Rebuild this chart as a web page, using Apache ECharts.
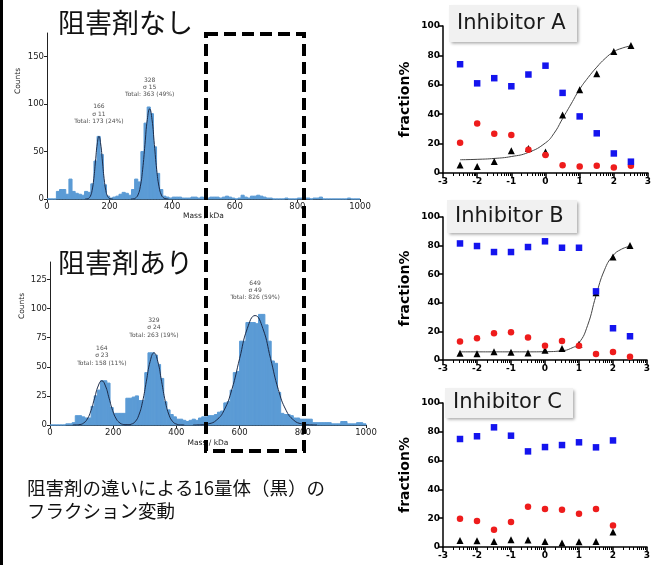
<!DOCTYPE html>
<html lang="ja">
<head>
<meta charset="utf-8"/>
<title>阻害剤 16量体 フラクション</title>
<script src="https://cdn.jsdelivr.net/npm/echarts@6/dist/echarts.min.js"></script>
</head>
<body style="margin:0;background:#fff">
<div id="chart" style="width:662px;height:565px"></div>
<script>
// mass photometry histograms, 10 kDa bins from 0 to 1000
const BIN = 10;
const countsNone = [
  0, 0, 0, 8, 10, 10, 5, 21, 8, 6,
  5, 4, 8, 7, 16, 40, 66, 47, 15, 3,
  1, 2, 3, 5, 7, 6, 4, 10, 21, 18,
  50, 80, 97, 90, 55, 27, 10, 3, 2, 1,
  2, 2, 2, 1, 1, 1, 2, 2, 1, 2,
  0, 1, 2, 2, 2, 1, 2, 3, 2, 1,
  0, 1, 4, 2, 1, 3, 3, 4, 3, 2,
  1, 1, 0, 0, 0, 0, 1, 0, 0, 0,
  1, 1, 1, 1, 0, 1, 1, 2, 0, 0,
  0, 0, 0, 0, 0, 0, 1, 0, 0, 0
];
const countsWith = [
  0, 0, 0, 0, 0, 1, 1, 2, 8, 8,
  7, 6, 6, 16, 25, 30, 38, 38, 36, 15,
  10, 10, 10, 10, 23, 23, 24, 25, 21, 21,
  45, 62, 62, 60, 52, 40, 20, 13, 9, 7,
  5, 5, 4, 3, 4, 5, 4, 6, 7, 7,
  8, 8, 9, 11, 12, 19, 20, 30, 45, 46,
  72, 72, 88, 88, 88, 87, 95, 95, 86, 72,
  55, 53, 28, 10, 9, 9, 8, 6, 6, 5,
  5, 5, 5, 2, 2, 2, 2, 2, 2, 1,
  1, 1, 3, 3, 1, 1, 1, 2, 2, 1
];
// fitted peaks
const fitNone1 = [[122,0],[127.5,0.1],[133,0.7],[138.5,2.9],[144,8.9],[149.5,21.4],[155,40],[160.5,58],[166,66],[171.5,58],[177,40],[182.5,21.4],[188,8.9],[193.5,2.9],[199,0.7],[204.5,0.1],[210,0]];
const fitNone2 = [[268,0],[275.5,0.2],[283,1.1],[290.5,4.2],[298,12.9],[305.5,30.8],[313,57.6],[320.5,83.8],[328,95],[335.5,83.8],[343,57.6],[350.5,30.8],[358,12.9],[365.5,4.2],[373,1.1],[380.5,0.2],[388,0]];
const fitWith1 = [[72,0],[83.5,0.1],[95,0.4],[106.5,1.7],[118,5.1],[129.5,12.3],[141,23],[152.5,33.5],[164,38],[175.5,33.5],[187,23],[198.5,12.3],[210,5.1],[221.5,1.7],[233,0.4],[244.5,0.1],[256,0]];
const fitWith2 = [[233,0],[245,0.1],[257,0.7],[269,2.7],[281,8.4],[293,20.1],[305,37.6],[317,54.7],[329,62],[341,54.7],[353,37.6],[365,20.1],[377,8.4],[389,2.7],[401,0.7],[413,0.1],[425,0]];
const fitWith3 = [[453,0],[477.5,0.2],[502,1],[526.5,4.1],[551,12.7],[575.5,30.5],[600,57],[624.5,83],[649,94],[673.5,83],[698,57],[722.5,30.5],[747,12.7],[771.5,4.1],[796,1],[820.5,0.2],[845,0]];
const peakNone = [[166, 78, '166\nσ 11\nTotal: 173 (24%)'], [328, 106, '328\nσ 15\nTotal: 363 (49%)']];
const peakWith = [[164, 50, '164\nσ 23\nTotal: 158 (11%)'], [329, 74, '329\nσ 24\nTotal: 263 (19%)'], [649, 106, '649\nσ 49\nTotal: 826 (59%)']];

// fraction% vs log concentration
const logConc = [-2.5, -2, -1.5, -1, -0.5, 0, 0.5, 1, 1.5, 2, 2.5];
const aBlue = [74, 61, 64.5, 59, 67, 73, 54.5, 38.5, 27, 13.3, 7.7];
const aRed = [20.6, 33.7, 26.7, 25.8, 15.8, 12.2, 5.2, 4.5, 5, 3.8, 5];
const aBlack = [5.4, 4.5, 7.9, 15.2, 16.7, 14.3, 39.4, 56.6, 67.6, 82.6, 86.7];
const aFit = [[-2.5,9],[-2,9.3],[-1.5,9.9],[-1,11.2],[-0.5,14],[0,20.5],[0.25,27],[0.5,37],[0.75,47],[1,57],[1.25,65],[1.5,72],[1.75,78],[2,82.5],[2.25,85],[2.5,86.5]];
const bBlue = [81.5, 79.7, 75.5, 75.5, 79, 83, 78.5, 78.5, 48, 22.2, 16.6];
const bRed = [12.9, 15.2, 18.7, 19.4, 15.7, 10, 13.3, 10, 4.2, 5.6, 2.3];
const bBlack = [4.7, 4.4, 5.8, 5.4, 4.9, 6.8, 8, 11, 47, 72, 80];
const bFit = [[-2.5,5.7],[-2,5.7],[-1.5,5.7],[-1,5.7],[-0.5,5.7],[0,5.8],[0.5,6.5],[0.75,8],[1,12],[1.25,24],[1.5,45],[1.75,63],[2,73],[2.25,77.5],[2.5,79.5]];
const cConc = [-2.5, -2, -1.5, -1, -0.5, 0, 0.5, 1, 1.5, 2];
const cBlue = [75, 76.9, 83.1, 77.3, 66.4, 69.4, 70.8, 72.7, 69.2, 74];
const cRed = [19.7, 18, 12, 17.4, 28, 26.4, 25.9, 23.1, 26.4, 15];
const cBlack = [4.6, 4.4, 3.9, 5.1, 4.9, 3.9, 2.8, 3.7, 3.9, 10.4];

const FONT = 'DejaVu Sans';
const JP = 'Noto Sans CJK JP';

const chart = echarts.init(document.getElementById('chart'));

function pair(xs, ys) { return xs.map((x, i) => [x, ys[i]]); }

function histSeries(counts, idx) {
  return {
    type: 'custom', xAxisIndex: idx, yAxisIndex: idx, z: 2,
    data: counts.map((c, i) => [i * BIN, (i + 1) * BIN, c]),
    encode: { x: [0, 1], y: 2 },
    renderItem: (params, api) => {
      const top = api.coord([api.value(0), api.value(2)]);
      const base = api.coord([api.value(1), 0]);
      return {
        type: 'rect',
        shape: { x: top[0], y: top[1], width: base[0] - top[0], height: base[1] - top[1] },
        style: { fill: '#5b9bd5', stroke: '#5b9bd5', lineWidth: 1 }
      };
    }
  };
}
function fitSeries(data, idx) {
  return {
    type: 'line', xAxisIndex: idx, yAxisIndex: idx, data: data, smooth: true,
    showSymbol: false, z: 3, lineStyle: { color: '#1b2a48', width: 1 }, silent: true
  };
}
function peakLabels(peaks, idx) {
  return {
    type: 'scatter', xAxisIndex: idx, yAxisIndex: idx, symbolSize: 0, z: 4,
    data: peaks.map(p => ({ value: [p[0], p[1]], label: { formatter: p[2] } })),
    label: { show: true, position: 'top', distance: 0, fontFamily: FONT, fontSize: 6, lineHeight: 7.3, color: '#222', align: 'center' }
  };
}

const histAxisX = (grid, gap) => ({
  gridIndex: grid, type: 'value', min: 0, max: 1000, interval: 200,
  axisLine: { onZero: false, lineStyle: { color: '#222', width: 1 } },
  axisTick: { length: 3, lineStyle: { color: '#222' } },
  axisLabel: { fontFamily: FONT, fontSize: 8.5, color: '#222', margin: 3, formatter: v => String(v) },
  splitLine: { show: false },
  name: 'Mass / kDa', nameLocation: 'middle', nameGap: gap,
  nameTextStyle: { fontFamily: FONT, fontSize: 7.5, color: '#222' }
});
const histAxisY = (grid, max, interval, ticks) => ({
  gridIndex: grid, type: 'value', min: 0, max: max, interval: interval,
  axisLine: { show: true, onZero: false, lineStyle: { color: '#222', width: 1 } },
  axisTick: { show: true, length: 3, lineStyle: { color: '#222' }, customValues: ticks },
  axisLabel: { fontFamily: FONT, fontSize: 8.5, color: '#222', margin: 3, customValues: ticks },
  splitLine: { show: false }
});

const minorTicks = [];
for (let k = -3; k < 3; k++) {
  for (let m = 2; m <= 9; m++) minorTicks.push(k + Math.log10(m));
}
const fracAxisX = grid => ([
  {
    gridIndex: grid, type: 'value', min: -3, max: 3, interval: 1, position: 'bottom',
    axisLine: { onZero: false, lineStyle: { color: '#000', width: 1.5 } },
    axisTick: { length: 5, lineStyle: { color: '#000', width: 1.5 } },
    axisLabel: { fontFamily: FONT, fontWeight: 'bold', fontSize: 9, color: '#000', margin: 4 },
    splitLine: { show: false }
  },
  {
    gridIndex: grid, type: 'value', min: -3, max: 3, position: 'bottom',
    axisLine: { show: false, onZero: false },
    axisTick: { show: true, length: 3, lineStyle: { color: '#000', width: 1 }, customValues: minorTicks },
    axisLabel: { show: false },
    splitLine: { show: false }
  }
]);
const fracAxisY = grid => ({
  gridIndex: grid, type: 'value', min: 0, max: 100, interval: 20,
  axisLine: { show: true, onZero: false, lineStyle: { color: '#000', width: 1.5 } },
  axisTick: { show: true, length: 4, lineStyle: { color: '#000', width: 1.5 } },
  axisLabel: { fontFamily: FONT, fontWeight: 'bold', fontSize: 9, color: '#000', margin: 3 },
  splitLine: { show: false },
  name: 'fraction%', nameLocation: 'middle', nameGap: 31,
  nameTextStyle: { fontFamily: FONT, fontWeight: 'bold', fontSize: 14, color: '#000' }
});

function fracSeries(xIdx, yIdx, xs, blue, red, black, fit) {
  const out = [];
  if (fit) out.push({
    type: 'line', xAxisIndex: xIdx, yAxisIndex: yIdx, data: fit, smooth: true,
    showSymbol: false, z: 2, lineStyle: { color: '#444', width: 1 }
  });
  out.push({ type: 'scatter', xAxisIndex: xIdx, yAxisIndex: yIdx, data: pair(xs, black), symbol: 'triangle', symbolSize: 7, z: 3, itemStyle: { color: '#000', opacity: 1 } });
  out.push({ type: 'scatter', xAxisIndex: xIdx, yAxisIndex: yIdx, data: pair(xs, red), symbol: 'circle', symbolSize: 6.5, z: 4, itemStyle: { color: '#ee1c1c', opacity: 1 } });
  out.push({ type: 'scatter', xAxisIndex: xIdx, yAxisIndex: yIdx, data: pair(xs, blue), symbol: 'rect', symbolSize: 6.5, z: 5, itemStyle: { color: '#1414ee', opacity: 1 } });
  return out;
}

function labelBox(x, y, w, h, text) {
  return [
    { type: 'rect', z: 50, shape: { x: x, y: y, width: w, height: h },
      style: { fill: '#f1f1f1', shadowBlur: 3, shadowOffsetX: 1.5, shadowOffsetY: 1.5, shadowColor: 'rgba(0,0,0,0.35)' } },
    { type: 'text', z: 51, x: x + 8, y: y + h / 2,
      style: { text: text, fontFamily: FONT, fontSize: 21, fill: '#1a1a1a', verticalAlign: 'middle' } }
  ];
}

chart.setOption({
  animation: false,
  grid: [
    { left: 47, top: 33, width: 313, height: 166 },
    { left: 50, top: 262, width: 316, height: 163 },
    { left: 443, top: 26, width: 205, height: 147 },
    { left: 443, top: 217, width: 204, height: 143 },
    { left: 443, top: 403, width: 204, height: 144 }
  ],
  xAxis: [histAxisX(0, 12), histAxisX(1, 14)]
    .concat(fracAxisX(2), fracAxisX(3), fracAxisX(4)),
  yAxis: [
    histAxisY(0, 175, 25, [0, 50, 100, 150]),
    histAxisY(1, 140, 25, [0, 25, 50, 75, 100, 125]),
    fracAxisY(2), fracAxisY(3), fracAxisY(4)
  ],
  series: [
    histSeries(countsNone, 0), fitSeries(fitNone1, 0), fitSeries(fitNone2, 0), peakLabels(peakNone, 0),
    histSeries(countsWith, 1), fitSeries(fitWith1, 1), fitSeries(fitWith2, 1), fitSeries(fitWith3, 1), peakLabels(peakWith, 1)
  ].concat(
    fracSeries(2, 2, logConc, aBlue, aRed, aBlack, aFit),
    fracSeries(4, 3, logConc, bBlue, bRed, bBlack, bFit),
    fracSeries(6, 4, cConc, cBlue, cRed, cBlack, null)
  ),
  graphic: [
    { type: 'rect', z: 60, shape: { x: 0, y: 0, width: 3, height: 565 }, style: { fill: '#000' } },
    { type: 'text', z: 60, x: 58, y: 23, style: { text: '阻害剤なし', fontFamily: JP, fontSize: 27, fill: '#111', verticalAlign: 'middle' } },
    { type: 'text', z: 60, x: 58, y: 263, style: { text: '阻害剤あり', fontFamily: JP, fontSize: 27, fill: '#111', verticalAlign: 'middle' } },
    { type: 'text', z: 60, x: 18, y: 81, rotation: Math.PI / 2, style: { text: 'Counts', fontFamily: FONT, fontSize: 7.5, fill: '#222', align: 'center', verticalAlign: 'middle' } },
    { type: 'text', z: 60, x: 22, y: 306, rotation: Math.PI / 2, style: { text: 'Counts', fontFamily: FONT, fontSize: 7.5, fill: '#222', align: 'center', verticalAlign: 'middle' } },
    { type: 'rect', z: 70, shape: { x: 206, y: 34, width: 98, height: 417 },
      style: { fill: 'none', stroke: '#000', lineWidth: 4, lineDash: [12, 6] } },
    { type: 'text', z: 60, x: 27, y: 488, style: { text: '阻害剤の違いによる16量体（黒）の', fontFamily: JP, fontSize: 18.5, fill: '#111', verticalAlign: 'middle' } },
    { type: 'text', z: 60, x: 27, y: 511, style: { text: 'フラクション変動', fontFamily: JP, fontSize: 18.5, fill: '#111', verticalAlign: 'middle' } }
  ].concat(
    labelBox(449, 5, 128, 37, 'Inhibitor A'),
    labelBox(447, 200, 130, 33, 'Inhibitor B'),
    labelBox(445, 388, 128, 30, 'Inhibitor C')
  )
});
</script>
</body>
</html>
